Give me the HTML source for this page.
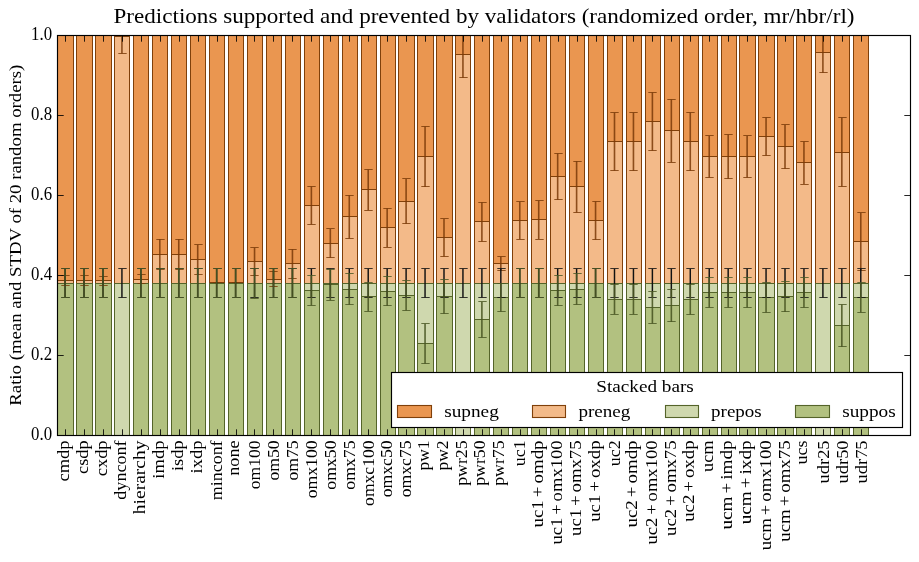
<!DOCTYPE html>
<html><head><meta charset="utf-8"><title>Predictions supported and prevented by validators</title>
<style>
html,body{margin:0;padding:0;background:#fff;}
body{width:919px;height:562px;overflow:hidden;}
svg{display:block;will-change:transform;}
text{font-family:"Liberation Serif",serif;fill:#000;}
</style></head><body>
<svg width="919" height="562" viewBox="0 0 919 562">
<rect width="919" height="562" fill="#fff"/>
<clipPath id="ax"><rect x="57.97" y="35.30" width="852.52" height="400.00"/></clipPath>
<g clip-path="url(#ax)" stroke-width="1" fill="none">
<rect x="57.5" y="35.5" width="16.0" height="400.0" fill="#EA9650" stroke="#80400A"/>
<rect x="57.5" y="280.5" width="16.0" height="155.0" fill="#F3BA89" stroke="#80400A"/>
<rect x="57.5" y="283.5" width="16.0" height="152.0" fill="#CFD8AE" stroke="#55642A"/>
<rect x="57.5" y="283.5" width="16.0" height="152.0" fill="#B2C180" stroke="#55642A"/>
<rect x="76.5" y="35.5" width="16.0" height="400.0" fill="#EA9650" stroke="#80400A"/>
<rect x="76.5" y="280.5" width="16.0" height="155.0" fill="#F3BA89" stroke="#80400A"/>
<rect x="76.5" y="283.5" width="16.0" height="152.0" fill="#CFD8AE" stroke="#55642A"/>
<rect x="76.5" y="283.5" width="16.0" height="152.0" fill="#B2C180" stroke="#55642A"/>
<rect x="95.5" y="35.5" width="16.0" height="400.0" fill="#EA9650" stroke="#80400A"/>
<rect x="95.5" y="280.5" width="16.0" height="155.0" fill="#F3BA89" stroke="#80400A"/>
<rect x="95.5" y="283.5" width="16.0" height="152.0" fill="#CFD8AE" stroke="#55642A"/>
<rect x="95.5" y="283.5" width="16.0" height="152.0" fill="#B2C180" stroke="#55642A"/>
<rect x="114.5" y="35.5" width="15.0" height="400.0" fill="#EA9650" stroke="#80400A"/>
<rect x="114.5" y="36.5" width="15.0" height="399.0" fill="#F3BA89" stroke="#80400A"/>
<rect x="114.5" y="283.5" width="15.0" height="152.0" fill="#CFD8AE" stroke="#55642A"/>
<rect x="133.5" y="35.5" width="15.0" height="400.0" fill="#EA9650" stroke="#80400A"/>
<rect x="133.5" y="279.5" width="15.0" height="156.0" fill="#F3BA89" stroke="#80400A"/>
<rect x="133.5" y="283.5" width="15.0" height="152.0" fill="#CFD8AE" stroke="#55642A"/>
<rect x="133.5" y="283.5" width="15.0" height="152.0" fill="#B2C180" stroke="#55642A"/>
<rect x="152.5" y="35.5" width="15.0" height="400.0" fill="#EA9650" stroke="#80400A"/>
<rect x="152.5" y="254.5" width="15.0" height="181.0" fill="#F3BA89" stroke="#80400A"/>
<rect x="152.5" y="283.5" width="15.0" height="152.0" fill="#CFD8AE" stroke="#55642A"/>
<rect x="152.5" y="283.5" width="15.0" height="152.0" fill="#B2C180" stroke="#55642A"/>
<rect x="171.5" y="35.5" width="15.0" height="400.0" fill="#EA9650" stroke="#80400A"/>
<rect x="171.5" y="254.5" width="15.0" height="181.0" fill="#F3BA89" stroke="#80400A"/>
<rect x="171.5" y="283.5" width="15.0" height="152.0" fill="#CFD8AE" stroke="#55642A"/>
<rect x="171.5" y="283.5" width="15.0" height="152.0" fill="#B2C180" stroke="#55642A"/>
<rect x="190.5" y="35.5" width="15.0" height="400.0" fill="#EA9650" stroke="#80400A"/>
<rect x="190.5" y="259.5" width="15.0" height="176.0" fill="#F3BA89" stroke="#80400A"/>
<rect x="190.5" y="283.5" width="15.0" height="152.0" fill="#CFD8AE" stroke="#55642A"/>
<rect x="190.5" y="283.5" width="15.0" height="152.0" fill="#B2C180" stroke="#55642A"/>
<rect x="209.5" y="35.5" width="15.0" height="400.0" fill="#EA9650" stroke="#80400A"/>
<rect x="209.5" y="282.5" width="15.0" height="153.0" fill="#F3BA89" stroke="#80400A"/>
<rect x="209.5" y="283.5" width="15.0" height="152.0" fill="#CFD8AE" stroke="#55642A"/>
<rect x="209.5" y="283.5" width="15.0" height="152.0" fill="#B2C180" stroke="#55642A"/>
<rect x="228.5" y="35.5" width="15.0" height="400.0" fill="#EA9650" stroke="#80400A"/>
<rect x="228.5" y="282.5" width="15.0" height="153.0" fill="#F3BA89" stroke="#80400A"/>
<rect x="228.5" y="283.5" width="15.0" height="152.0" fill="#CFD8AE" stroke="#55642A"/>
<rect x="228.5" y="283.5" width="15.0" height="152.0" fill="#B2C180" stroke="#55642A"/>
<rect x="247.5" y="35.5" width="15.0" height="400.0" fill="#EA9650" stroke="#80400A"/>
<rect x="247.5" y="261.5" width="15.0" height="174.0" fill="#F3BA89" stroke="#80400A"/>
<rect x="247.5" y="283.5" width="15.0" height="152.0" fill="#CFD8AE" stroke="#55642A"/>
<rect x="247.5" y="283.5" width="15.0" height="152.0" fill="#B2C180" stroke="#55642A"/>
<rect x="266.5" y="35.5" width="15.0" height="400.0" fill="#EA9650" stroke="#80400A"/>
<rect x="266.5" y="279.5" width="15.0" height="156.0" fill="#F3BA89" stroke="#80400A"/>
<rect x="266.5" y="283.5" width="15.0" height="152.0" fill="#CFD8AE" stroke="#55642A"/>
<rect x="266.5" y="283.5" width="15.0" height="152.0" fill="#B2C180" stroke="#55642A"/>
<rect x="285.5" y="35.5" width="15.0" height="400.0" fill="#EA9650" stroke="#80400A"/>
<rect x="285.5" y="263.5" width="15.0" height="172.0" fill="#F3BA89" stroke="#80400A"/>
<rect x="285.5" y="283.5" width="15.0" height="152.0" fill="#CFD8AE" stroke="#55642A"/>
<rect x="285.5" y="283.5" width="15.0" height="152.0" fill="#B2C180" stroke="#55642A"/>
<rect x="304.5" y="35.5" width="15.0" height="400.0" fill="#EA9650" stroke="#80400A"/>
<rect x="304.5" y="205.5" width="15.0" height="230.0" fill="#F3BA89" stroke="#80400A"/>
<rect x="304.5" y="283.5" width="15.0" height="152.0" fill="#CFD8AE" stroke="#55642A"/>
<rect x="304.5" y="290.5" width="15.0" height="145.0" fill="#B2C180" stroke="#55642A"/>
<rect x="323.5" y="35.5" width="15.0" height="400.0" fill="#EA9650" stroke="#80400A"/>
<rect x="323.5" y="243.5" width="15.0" height="192.0" fill="#F3BA89" stroke="#80400A"/>
<rect x="323.5" y="283.5" width="15.0" height="152.0" fill="#CFD8AE" stroke="#55642A"/>
<rect x="323.5" y="284.5" width="15.0" height="151.0" fill="#B2C180" stroke="#55642A"/>
<rect x="342.5" y="35.5" width="15.0" height="400.0" fill="#EA9650" stroke="#80400A"/>
<rect x="342.5" y="216.5" width="15.0" height="219.0" fill="#F3BA89" stroke="#80400A"/>
<rect x="342.5" y="283.5" width="15.0" height="152.0" fill="#CFD8AE" stroke="#55642A"/>
<rect x="342.5" y="289.5" width="15.0" height="146.0" fill="#B2C180" stroke="#55642A"/>
<rect x="361.5" y="35.5" width="15.0" height="400.0" fill="#EA9650" stroke="#80400A"/>
<rect x="361.5" y="189.5" width="15.0" height="246.0" fill="#F3BA89" stroke="#80400A"/>
<rect x="361.5" y="283.5" width="15.0" height="152.0" fill="#CFD8AE" stroke="#55642A"/>
<rect x="361.5" y="296.5" width="15.0" height="139.0" fill="#B2C180" stroke="#55642A"/>
<rect x="380.5" y="35.5" width="15.0" height="400.0" fill="#EA9650" stroke="#80400A"/>
<rect x="380.5" y="227.5" width="15.0" height="208.0" fill="#F3BA89" stroke="#80400A"/>
<rect x="380.5" y="283.5" width="15.0" height="152.0" fill="#CFD8AE" stroke="#55642A"/>
<rect x="380.5" y="291.5" width="15.0" height="144.0" fill="#B2C180" stroke="#55642A"/>
<rect x="398.5" y="35.5" width="16.0" height="400.0" fill="#EA9650" stroke="#80400A"/>
<rect x="398.5" y="201.5" width="16.0" height="234.0" fill="#F3BA89" stroke="#80400A"/>
<rect x="398.5" y="283.5" width="16.0" height="152.0" fill="#CFD8AE" stroke="#55642A"/>
<rect x="398.5" y="295.5" width="16.0" height="140.0" fill="#B2C180" stroke="#55642A"/>
<rect x="417.5" y="35.5" width="16.0" height="400.0" fill="#EA9650" stroke="#80400A"/>
<rect x="417.5" y="156.5" width="16.0" height="279.0" fill="#F3BA89" stroke="#80400A"/>
<rect x="417.5" y="283.5" width="16.0" height="152.0" fill="#CFD8AE" stroke="#55642A"/>
<rect x="417.5" y="343.5" width="16.0" height="92.0" fill="#B2C180" stroke="#55642A"/>
<rect x="436.5" y="35.5" width="16.0" height="400.0" fill="#EA9650" stroke="#80400A"/>
<rect x="436.5" y="237.5" width="16.0" height="198.0" fill="#F3BA89" stroke="#80400A"/>
<rect x="436.5" y="283.5" width="16.0" height="152.0" fill="#CFD8AE" stroke="#55642A"/>
<rect x="436.5" y="296.5" width="16.0" height="139.0" fill="#B2C180" stroke="#55642A"/>
<rect x="455.5" y="35.5" width="15.0" height="400.0" fill="#EA9650" stroke="#80400A"/>
<rect x="455.5" y="54.5" width="15.0" height="381.0" fill="#F3BA89" stroke="#80400A"/>
<rect x="455.5" y="283.5" width="15.0" height="152.0" fill="#CFD8AE" stroke="#55642A"/>
<rect x="474.5" y="35.5" width="15.0" height="400.0" fill="#EA9650" stroke="#80400A"/>
<rect x="474.5" y="221.5" width="15.0" height="214.0" fill="#F3BA89" stroke="#80400A"/>
<rect x="474.5" y="283.5" width="15.0" height="152.0" fill="#CFD8AE" stroke="#55642A"/>
<rect x="474.5" y="319.5" width="15.0" height="116.0" fill="#B2C180" stroke="#55642A"/>
<rect x="493.5" y="35.5" width="15.0" height="400.0" fill="#EA9650" stroke="#80400A"/>
<rect x="493.5" y="263.5" width="15.0" height="172.0" fill="#F3BA89" stroke="#80400A"/>
<rect x="493.5" y="283.5" width="15.0" height="152.0" fill="#CFD8AE" stroke="#55642A"/>
<rect x="493.5" y="297.5" width="15.0" height="138.0" fill="#B2C180" stroke="#55642A"/>
<rect x="512.5" y="35.5" width="15.0" height="400.0" fill="#EA9650" stroke="#80400A"/>
<rect x="512.5" y="220.5" width="15.0" height="215.0" fill="#F3BA89" stroke="#80400A"/>
<rect x="512.5" y="283.5" width="15.0" height="152.0" fill="#CFD8AE" stroke="#55642A"/>
<rect x="512.5" y="283.5" width="15.0" height="152.0" fill="#B2C180" stroke="#55642A"/>
<rect x="531.5" y="35.5" width="15.0" height="400.0" fill="#EA9650" stroke="#80400A"/>
<rect x="531.5" y="219.5" width="15.0" height="216.0" fill="#F3BA89" stroke="#80400A"/>
<rect x="531.5" y="283.5" width="15.0" height="152.0" fill="#CFD8AE" stroke="#55642A"/>
<rect x="531.5" y="283.5" width="15.0" height="152.0" fill="#B2C180" stroke="#55642A"/>
<rect x="550.5" y="35.5" width="15.0" height="400.0" fill="#EA9650" stroke="#80400A"/>
<rect x="550.5" y="176.5" width="15.0" height="259.0" fill="#F3BA89" stroke="#80400A"/>
<rect x="550.5" y="283.5" width="15.0" height="152.0" fill="#CFD8AE" stroke="#55642A"/>
<rect x="550.5" y="290.5" width="15.0" height="145.0" fill="#B2C180" stroke="#55642A"/>
<rect x="569.5" y="35.5" width="15.0" height="400.0" fill="#EA9650" stroke="#80400A"/>
<rect x="569.5" y="186.5" width="15.0" height="249.0" fill="#F3BA89" stroke="#80400A"/>
<rect x="569.5" y="283.5" width="15.0" height="152.0" fill="#CFD8AE" stroke="#55642A"/>
<rect x="569.5" y="289.5" width="15.0" height="146.0" fill="#B2C180" stroke="#55642A"/>
<rect x="588.5" y="35.5" width="15.0" height="400.0" fill="#EA9650" stroke="#80400A"/>
<rect x="588.5" y="220.5" width="15.0" height="215.0" fill="#F3BA89" stroke="#80400A"/>
<rect x="588.5" y="283.5" width="15.0" height="152.0" fill="#CFD8AE" stroke="#55642A"/>
<rect x="588.5" y="283.5" width="15.0" height="152.0" fill="#B2C180" stroke="#55642A"/>
<rect x="607.5" y="35.5" width="15.0" height="400.0" fill="#EA9650" stroke="#80400A"/>
<rect x="607.5" y="141.5" width="15.0" height="294.0" fill="#F3BA89" stroke="#80400A"/>
<rect x="607.5" y="283.5" width="15.0" height="152.0" fill="#CFD8AE" stroke="#55642A"/>
<rect x="607.5" y="299.5" width="15.0" height="136.0" fill="#B2C180" stroke="#55642A"/>
<rect x="626.5" y="35.5" width="15.0" height="400.0" fill="#EA9650" stroke="#80400A"/>
<rect x="626.5" y="141.5" width="15.0" height="294.0" fill="#F3BA89" stroke="#80400A"/>
<rect x="626.5" y="283.5" width="15.0" height="152.0" fill="#CFD8AE" stroke="#55642A"/>
<rect x="626.5" y="299.5" width="15.0" height="136.0" fill="#B2C180" stroke="#55642A"/>
<rect x="645.5" y="35.5" width="15.0" height="400.0" fill="#EA9650" stroke="#80400A"/>
<rect x="645.5" y="121.5" width="15.0" height="314.0" fill="#F3BA89" stroke="#80400A"/>
<rect x="645.5" y="283.5" width="15.0" height="152.0" fill="#CFD8AE" stroke="#55642A"/>
<rect x="645.5" y="307.5" width="15.0" height="128.0" fill="#B2C180" stroke="#55642A"/>
<rect x="664.5" y="35.5" width="15.0" height="400.0" fill="#EA9650" stroke="#80400A"/>
<rect x="664.5" y="130.5" width="15.0" height="305.0" fill="#F3BA89" stroke="#80400A"/>
<rect x="664.5" y="283.5" width="15.0" height="152.0" fill="#CFD8AE" stroke="#55642A"/>
<rect x="664.5" y="305.5" width="15.0" height="130.0" fill="#B2C180" stroke="#55642A"/>
<rect x="683.5" y="35.5" width="15.0" height="400.0" fill="#EA9650" stroke="#80400A"/>
<rect x="683.5" y="141.5" width="15.0" height="294.0" fill="#F3BA89" stroke="#80400A"/>
<rect x="683.5" y="283.5" width="15.0" height="152.0" fill="#CFD8AE" stroke="#55642A"/>
<rect x="683.5" y="299.5" width="15.0" height="136.0" fill="#B2C180" stroke="#55642A"/>
<rect x="702.5" y="35.5" width="15.0" height="400.0" fill="#EA9650" stroke="#80400A"/>
<rect x="702.5" y="156.5" width="15.0" height="279.0" fill="#F3BA89" stroke="#80400A"/>
<rect x="702.5" y="283.5" width="15.0" height="152.0" fill="#CFD8AE" stroke="#55642A"/>
<rect x="702.5" y="292.5" width="15.0" height="143.0" fill="#B2C180" stroke="#55642A"/>
<rect x="721.5" y="35.5" width="15.0" height="400.0" fill="#EA9650" stroke="#80400A"/>
<rect x="721.5" y="156.5" width="15.0" height="279.0" fill="#F3BA89" stroke="#80400A"/>
<rect x="721.5" y="283.5" width="15.0" height="152.0" fill="#CFD8AE" stroke="#55642A"/>
<rect x="721.5" y="292.5" width="15.0" height="143.0" fill="#B2C180" stroke="#55642A"/>
<rect x="739.5" y="35.5" width="16.0" height="400.0" fill="#EA9650" stroke="#80400A"/>
<rect x="739.5" y="156.5" width="16.0" height="279.0" fill="#F3BA89" stroke="#80400A"/>
<rect x="739.5" y="283.5" width="16.0" height="152.0" fill="#CFD8AE" stroke="#55642A"/>
<rect x="739.5" y="292.5" width="16.0" height="143.0" fill="#B2C180" stroke="#55642A"/>
<rect x="758.5" y="35.5" width="16.0" height="400.0" fill="#EA9650" stroke="#80400A"/>
<rect x="758.5" y="136.5" width="16.0" height="299.0" fill="#F3BA89" stroke="#80400A"/>
<rect x="758.5" y="283.5" width="16.0" height="152.0" fill="#CFD8AE" stroke="#55642A"/>
<rect x="758.5" y="297.5" width="16.0" height="138.0" fill="#B2C180" stroke="#55642A"/>
<rect x="777.5" y="35.5" width="16.0" height="400.0" fill="#EA9650" stroke="#80400A"/>
<rect x="777.5" y="146.5" width="16.0" height="289.0" fill="#F3BA89" stroke="#80400A"/>
<rect x="777.5" y="283.5" width="16.0" height="152.0" fill="#CFD8AE" stroke="#55642A"/>
<rect x="777.5" y="296.5" width="16.0" height="139.0" fill="#B2C180" stroke="#55642A"/>
<rect x="796.5" y="35.5" width="15.0" height="400.0" fill="#EA9650" stroke="#80400A"/>
<rect x="796.5" y="162.5" width="15.0" height="273.0" fill="#F3BA89" stroke="#80400A"/>
<rect x="796.5" y="283.5" width="15.0" height="152.0" fill="#CFD8AE" stroke="#55642A"/>
<rect x="796.5" y="292.5" width="15.0" height="143.0" fill="#B2C180" stroke="#55642A"/>
<rect x="815.5" y="35.5" width="15.0" height="400.0" fill="#EA9650" stroke="#80400A"/>
<rect x="815.5" y="52.5" width="15.0" height="383.0" fill="#F3BA89" stroke="#80400A"/>
<rect x="815.5" y="283.5" width="15.0" height="152.0" fill="#CFD8AE" stroke="#55642A"/>
<rect x="834.5" y="35.5" width="15.0" height="400.0" fill="#EA9650" stroke="#80400A"/>
<rect x="834.5" y="152.5" width="15.0" height="283.0" fill="#F3BA89" stroke="#80400A"/>
<rect x="834.5" y="283.5" width="15.0" height="152.0" fill="#CFD8AE" stroke="#55642A"/>
<rect x="834.5" y="325.5" width="15.0" height="110.0" fill="#B2C180" stroke="#55642A"/>
<rect x="853.5" y="35.5" width="15.0" height="400.0" fill="#EA9650" stroke="#80400A"/>
<rect x="853.5" y="241.5" width="15.0" height="194.0" fill="#F3BA89" stroke="#80400A"/>
<rect x="853.5" y="283.5" width="15.0" height="152.0" fill="#CFD8AE" stroke="#55642A"/>
<rect x="853.5" y="297.5" width="15.0" height="138.0" fill="#B2C180" stroke="#55642A"/>
<path d="M65.10 275.50V285.50" stroke="#7a3a08" stroke-width="1.60" stroke-opacity="0.85"/>
<path d="M61.30 275.5H69.70M61.30 285.5H69.70" stroke="#7a3a08" stroke-width="1" stroke-opacity="0.82"/>
<path d="M65.10 268.70V297.50" stroke="#111" stroke-width="1.45" stroke-opacity="1.00"/>
<path d="M61.30 268.5H69.70M61.30 297.5H69.70" stroke="#111" stroke-width="1" stroke-opacity="0.82"/>
<path d="M65.10 268.90V297.70" stroke="#4a5824" stroke-width="1.60" stroke-opacity="0.90"/>
<path d="M61.30 268.5H69.70M61.30 297.5H69.70" stroke="#4a5824" stroke-width="1" stroke-opacity="0.82"/>
<path d="M84.04 275.50V285.50" stroke="#7a3a08" stroke-width="1.60" stroke-opacity="0.85"/>
<path d="M80.30 275.5H88.70M80.30 285.5H88.70" stroke="#7a3a08" stroke-width="1" stroke-opacity="0.82"/>
<path d="M84.04 268.70V297.50" stroke="#111" stroke-width="1.45" stroke-opacity="1.00"/>
<path d="M80.30 268.5H88.70M80.30 297.5H88.70" stroke="#111" stroke-width="1" stroke-opacity="0.82"/>
<path d="M84.04 268.90V297.70" stroke="#4a5824" stroke-width="1.60" stroke-opacity="0.90"/>
<path d="M80.30 268.5H88.70M80.30 297.5H88.70" stroke="#4a5824" stroke-width="1" stroke-opacity="0.82"/>
<path d="M102.99 276.42V285.38" stroke="#7a3a08" stroke-width="1.60" stroke-opacity="0.85"/>
<path d="M99.30 276.5H107.70M99.30 285.5H107.70" stroke="#7a3a08" stroke-width="1" stroke-opacity="0.82"/>
<path d="M102.99 268.70V297.50" stroke="#111" stroke-width="1.45" stroke-opacity="1.00"/>
<path d="M99.30 268.5H107.70M99.30 297.5H107.70" stroke="#111" stroke-width="1" stroke-opacity="0.82"/>
<path d="M102.99 268.90V297.70" stroke="#4a5824" stroke-width="1.60" stroke-opacity="0.90"/>
<path d="M99.30 268.5H107.70M99.30 297.5H107.70" stroke="#4a5824" stroke-width="1" stroke-opacity="0.82"/>
<path d="M121.93 19.50V53.50" stroke="#7a3a08" stroke-width="1.60" stroke-opacity="0.85"/>
<path d="M118.30 19.5H126.70M118.30 53.5H126.70" stroke="#7a3a08" stroke-width="1" stroke-opacity="0.82"/>
<path d="M121.93 268.70V297.50" stroke="#111" stroke-width="1.45" stroke-opacity="1.00"/>
<path d="M118.30 268.5H126.70M118.30 297.5H126.70" stroke="#111" stroke-width="1" stroke-opacity="0.82"/>
<path d="M140.88 274.62V283.58" stroke="#7a3a08" stroke-width="1.60" stroke-opacity="0.85"/>
<path d="M137.30 274.5H145.70M137.30 283.5H145.70" stroke="#7a3a08" stroke-width="1" stroke-opacity="0.82"/>
<path d="M140.88 268.70V297.50" stroke="#111" stroke-width="1.45" stroke-opacity="1.00"/>
<path d="M137.30 268.5H145.70M137.30 297.5H145.70" stroke="#111" stroke-width="1" stroke-opacity="0.82"/>
<path d="M140.88 268.90V297.70" stroke="#4a5824" stroke-width="1.60" stroke-opacity="0.90"/>
<path d="M137.30 268.5H145.70M137.30 297.5H145.70" stroke="#4a5824" stroke-width="1" stroke-opacity="0.82"/>
<path d="M159.82 239.06V269.30" stroke="#7a3a08" stroke-width="1.60" stroke-opacity="0.85"/>
<path d="M156.30 239.5H164.70M156.30 269.5H164.70" stroke="#7a3a08" stroke-width="1" stroke-opacity="0.82"/>
<path d="M159.82 268.70V297.50" stroke="#111" stroke-width="1.45" stroke-opacity="1.00"/>
<path d="M156.30 268.5H164.70M156.30 297.5H164.70" stroke="#111" stroke-width="1" stroke-opacity="0.82"/>
<path d="M159.82 268.90V297.70" stroke="#4a5824" stroke-width="1.60" stroke-opacity="0.90"/>
<path d="M156.30 268.5H164.70M156.30 297.5H164.70" stroke="#4a5824" stroke-width="1" stroke-opacity="0.82"/>
<path d="M178.77 239.06V269.30" stroke="#7a3a08" stroke-width="1.60" stroke-opacity="0.85"/>
<path d="M175.30 239.5H183.70M175.30 269.5H183.70" stroke="#7a3a08" stroke-width="1" stroke-opacity="0.82"/>
<path d="M178.77 268.70V297.50" stroke="#111" stroke-width="1.45" stroke-opacity="1.00"/>
<path d="M175.30 268.5H183.70M175.30 297.5H183.70" stroke="#111" stroke-width="1" stroke-opacity="0.82"/>
<path d="M178.77 268.90V297.70" stroke="#4a5824" stroke-width="1.60" stroke-opacity="0.90"/>
<path d="M175.30 268.5H183.70M175.30 297.5H183.70" stroke="#4a5824" stroke-width="1" stroke-opacity="0.82"/>
<path d="M197.71 244.70V274.30" stroke="#7a3a08" stroke-width="1.60" stroke-opacity="0.85"/>
<path d="M194.30 244.5H202.70M194.30 274.5H202.70" stroke="#7a3a08" stroke-width="1" stroke-opacity="0.82"/>
<path d="M197.71 268.70V297.50" stroke="#111" stroke-width="1.45" stroke-opacity="1.00"/>
<path d="M194.30 268.5H202.70M194.30 297.5H202.70" stroke="#111" stroke-width="1" stroke-opacity="0.82"/>
<path d="M197.71 268.90V297.70" stroke="#4a5824" stroke-width="1.60" stroke-opacity="0.90"/>
<path d="M194.30 268.5H202.70M194.30 297.5H202.70" stroke="#4a5824" stroke-width="1" stroke-opacity="0.82"/>
<path d="M216.66 282.90V282.90" stroke="#7a3a08" stroke-width="1.60" stroke-opacity="0.85"/>
<path d="M213.30 282.5H221.70M213.30 282.5H221.70" stroke="#7a3a08" stroke-width="1" stroke-opacity="0.82"/>
<path d="M216.66 268.70V297.50" stroke="#111" stroke-width="1.45" stroke-opacity="1.00"/>
<path d="M213.30 268.5H221.70M213.30 297.5H221.70" stroke="#111" stroke-width="1" stroke-opacity="0.82"/>
<path d="M216.66 268.90V297.70" stroke="#4a5824" stroke-width="1.60" stroke-opacity="0.90"/>
<path d="M213.30 268.5H221.70M213.30 297.5H221.70" stroke="#4a5824" stroke-width="1" stroke-opacity="0.82"/>
<path d="M235.60 282.90V282.90" stroke="#7a3a08" stroke-width="1.60" stroke-opacity="0.85"/>
<path d="M232.30 282.5H240.70M232.30 282.5H240.70" stroke="#7a3a08" stroke-width="1" stroke-opacity="0.82"/>
<path d="M235.60 268.70V297.50" stroke="#111" stroke-width="1.45" stroke-opacity="1.00"/>
<path d="M232.30 268.5H240.70M232.30 297.5H240.70" stroke="#111" stroke-width="1" stroke-opacity="0.82"/>
<path d="M235.60 268.90V297.70" stroke="#4a5824" stroke-width="1.60" stroke-opacity="0.90"/>
<path d="M232.30 268.5H240.70M232.30 297.5H240.70" stroke="#4a5824" stroke-width="1" stroke-opacity="0.82"/>
<path d="M254.55 247.70V275.70" stroke="#7a3a08" stroke-width="1.60" stroke-opacity="0.85"/>
<path d="M250.30 247.5H258.70M250.30 275.5H258.70" stroke="#7a3a08" stroke-width="1" stroke-opacity="0.82"/>
<path d="M254.55 268.70V297.50" stroke="#111" stroke-width="1.45" stroke-opacity="1.00"/>
<path d="M250.30 268.5H258.70M250.30 297.5H258.70" stroke="#111" stroke-width="1" stroke-opacity="0.82"/>
<path d="M254.55 268.90V298.50" stroke="#4a5824" stroke-width="1.60" stroke-opacity="0.90"/>
<path d="M250.30 268.5H258.70M250.30 298.5H258.70" stroke="#4a5824" stroke-width="1" stroke-opacity="0.82"/>
<path d="M273.49 271.70V286.90" stroke="#7a3a08" stroke-width="1.60" stroke-opacity="0.85"/>
<path d="M269.30 271.5H277.70M269.30 286.5H277.70" stroke="#7a3a08" stroke-width="1" stroke-opacity="0.82"/>
<path d="M273.49 268.70V297.50" stroke="#111" stroke-width="1.45" stroke-opacity="1.00"/>
<path d="M269.30 268.5H277.70M269.30 297.5H277.70" stroke="#111" stroke-width="1" stroke-opacity="0.82"/>
<path d="M273.49 268.90V297.70" stroke="#4a5824" stroke-width="1.60" stroke-opacity="0.90"/>
<path d="M269.30 268.5H277.70M269.30 297.5H277.70" stroke="#4a5824" stroke-width="1" stroke-opacity="0.82"/>
<path d="M292.44 249.30V278.10" stroke="#7a3a08" stroke-width="1.60" stroke-opacity="0.85"/>
<path d="M288.30 249.5H296.70M288.30 278.5H296.70" stroke="#7a3a08" stroke-width="1" stroke-opacity="0.82"/>
<path d="M292.44 268.70V297.50" stroke="#111" stroke-width="1.45" stroke-opacity="1.00"/>
<path d="M288.30 268.5H296.70M288.30 297.5H296.70" stroke="#111" stroke-width="1" stroke-opacity="0.82"/>
<path d="M292.44 268.90V297.70" stroke="#4a5824" stroke-width="1.60" stroke-opacity="0.90"/>
<path d="M288.30 268.5H296.70M288.30 297.5H296.70" stroke="#4a5824" stroke-width="1" stroke-opacity="0.82"/>
<path d="M311.38 186.50V224.50" stroke="#7a3a08" stroke-width="1.60" stroke-opacity="0.85"/>
<path d="M307.30 186.5H315.70M307.30 224.5H315.70" stroke="#7a3a08" stroke-width="1" stroke-opacity="0.82"/>
<path d="M311.38 268.70V297.50" stroke="#111" stroke-width="1.45" stroke-opacity="1.00"/>
<path d="M307.30 268.5H315.70M307.30 297.5H315.70" stroke="#111" stroke-width="1" stroke-opacity="0.82"/>
<path d="M311.38 275.50V305.50" stroke="#4a5824" stroke-width="1.60" stroke-opacity="0.90"/>
<path d="M307.30 275.5H315.70M307.30 305.5H315.70" stroke="#4a5824" stroke-width="1" stroke-opacity="0.82"/>
<path d="M330.33 228.90V257.70" stroke="#7a3a08" stroke-width="1.60" stroke-opacity="0.85"/>
<path d="M326.30 228.5H334.70M326.30 257.5H334.70" stroke="#7a3a08" stroke-width="1" stroke-opacity="0.82"/>
<path d="M330.33 268.70V297.50" stroke="#111" stroke-width="1.45" stroke-opacity="1.00"/>
<path d="M326.30 268.5H334.70M326.30 297.5H334.70" stroke="#111" stroke-width="1" stroke-opacity="0.82"/>
<path d="M330.33 269.10V300.30" stroke="#4a5824" stroke-width="1.60" stroke-opacity="0.90"/>
<path d="M326.30 269.5H334.70M326.30 300.5H334.70" stroke="#4a5824" stroke-width="1" stroke-opacity="0.82"/>
<path d="M349.27 195.30V238.50" stroke="#7a3a08" stroke-width="1.60" stroke-opacity="0.85"/>
<path d="M345.30 195.5H353.70M345.30 238.5H353.70" stroke="#7a3a08" stroke-width="1" stroke-opacity="0.82"/>
<path d="M349.27 268.70V297.50" stroke="#111" stroke-width="1.45" stroke-opacity="1.00"/>
<path d="M345.30 268.5H353.70M345.30 297.5H353.70" stroke="#111" stroke-width="1" stroke-opacity="0.82"/>
<path d="M349.27 273.50V304.70" stroke="#4a5824" stroke-width="1.60" stroke-opacity="0.90"/>
<path d="M345.30 273.5H353.70M345.30 304.5H353.70" stroke="#4a5824" stroke-width="1" stroke-opacity="0.82"/>
<path d="M368.22 169.50V210.30" stroke="#7a3a08" stroke-width="1.60" stroke-opacity="0.85"/>
<path d="M364.30 169.5H372.70M364.30 210.5H372.70" stroke="#7a3a08" stroke-width="1" stroke-opacity="0.82"/>
<path d="M368.22 268.70V297.50" stroke="#111" stroke-width="1.45" stroke-opacity="1.00"/>
<path d="M364.30 268.5H372.70M364.30 297.5H372.70" stroke="#111" stroke-width="1" stroke-opacity="0.82"/>
<path d="M368.22 282.50V311.30" stroke="#4a5824" stroke-width="1.60" stroke-opacity="0.90"/>
<path d="M364.30 282.5H372.70M364.30 311.5H372.70" stroke="#4a5824" stroke-width="1" stroke-opacity="0.82"/>
<path d="M387.16 208.30V247.10" stroke="#7a3a08" stroke-width="1.60" stroke-opacity="0.85"/>
<path d="M383.30 208.5H391.70M383.30 247.5H391.70" stroke="#7a3a08" stroke-width="1" stroke-opacity="0.82"/>
<path d="M387.16 268.70V297.50" stroke="#111" stroke-width="1.45" stroke-opacity="1.00"/>
<path d="M383.30 268.5H391.70M383.30 297.5H391.70" stroke="#111" stroke-width="1" stroke-opacity="0.82"/>
<path d="M387.16 276.70V305.90" stroke="#4a5824" stroke-width="1.60" stroke-opacity="0.90"/>
<path d="M383.30 276.5H391.70M383.30 305.5H391.70" stroke="#4a5824" stroke-width="1" stroke-opacity="0.82"/>
<path d="M406.11 178.90V223.70" stroke="#7a3a08" stroke-width="1.60" stroke-opacity="0.85"/>
<path d="M402.30 178.5H410.70M402.30 223.5H410.70" stroke="#7a3a08" stroke-width="1" stroke-opacity="0.82"/>
<path d="M406.11 268.70V297.50" stroke="#111" stroke-width="1.45" stroke-opacity="1.00"/>
<path d="M402.30 268.5H410.70M402.30 297.5H410.70" stroke="#111" stroke-width="1" stroke-opacity="0.82"/>
<path d="M406.11 280.50V310.50" stroke="#4a5824" stroke-width="1.60" stroke-opacity="0.90"/>
<path d="M402.30 280.5H410.70M402.30 310.5H410.70" stroke="#4a5824" stroke-width="1" stroke-opacity="0.82"/>
<path d="M425.05 126.50V186.90" stroke="#7a3a08" stroke-width="1.60" stroke-opacity="0.85"/>
<path d="M421.30 126.5H429.70M421.30 186.5H429.70" stroke="#7a3a08" stroke-width="1" stroke-opacity="0.82"/>
<path d="M425.05 268.70V297.50" stroke="#111" stroke-width="1.45" stroke-opacity="1.00"/>
<path d="M421.30 268.5H429.70M421.30 297.5H429.70" stroke="#111" stroke-width="1" stroke-opacity="0.82"/>
<path d="M425.05 323.86V363.86" stroke="#4a5824" stroke-width="1.60" stroke-opacity="0.90"/>
<path d="M421.30 323.5H429.70M421.30 363.5H429.70" stroke="#4a5824" stroke-width="1" stroke-opacity="0.82"/>
<path d="M444.00 218.90V256.50" stroke="#7a3a08" stroke-width="1.60" stroke-opacity="0.85"/>
<path d="M440.30 218.5H448.70M440.30 256.5H448.70" stroke="#7a3a08" stroke-width="1" stroke-opacity="0.82"/>
<path d="M444.00 268.70V297.50" stroke="#111" stroke-width="1.45" stroke-opacity="1.00"/>
<path d="M440.30 268.5H448.70M440.30 297.5H448.70" stroke="#111" stroke-width="1" stroke-opacity="0.82"/>
<path d="M444.00 279.70V313.70" stroke="#4a5824" stroke-width="1.60" stroke-opacity="0.90"/>
<path d="M440.30 279.5H448.70M440.30 313.5H448.70" stroke="#4a5824" stroke-width="1" stroke-opacity="0.82"/>
<path d="M462.94 32.10V77.70" stroke="#7a3a08" stroke-width="1.60" stroke-opacity="0.85"/>
<path d="M459.30 32.5H467.70M459.30 77.5H467.70" stroke="#7a3a08" stroke-width="1" stroke-opacity="0.82"/>
<path d="M462.94 268.70V297.50" stroke="#111" stroke-width="1.45" stroke-opacity="1.00"/>
<path d="M459.30 268.5H467.70M459.30 297.5H467.70" stroke="#111" stroke-width="1" stroke-opacity="0.82"/>
<path d="M481.89 202.30V241.50" stroke="#7a3a08" stroke-width="1.60" stroke-opacity="0.85"/>
<path d="M478.30 202.5H486.70M478.30 241.5H486.70" stroke="#7a3a08" stroke-width="1" stroke-opacity="0.82"/>
<path d="M481.89 268.70V297.50" stroke="#111" stroke-width="1.45" stroke-opacity="1.00"/>
<path d="M478.30 268.5H486.70M478.30 297.5H486.70" stroke="#111" stroke-width="1" stroke-opacity="0.82"/>
<path d="M481.89 301.90V337.50" stroke="#4a5824" stroke-width="1.60" stroke-opacity="0.90"/>
<path d="M478.30 301.5H486.70M478.30 337.5H486.70" stroke="#4a5824" stroke-width="1" stroke-opacity="0.82"/>
<path d="M500.83 256.70V270.70" stroke="#7a3a08" stroke-width="1.60" stroke-opacity="0.85"/>
<path d="M497.30 256.5H505.70M497.30 270.5H505.70" stroke="#7a3a08" stroke-width="1" stroke-opacity="0.82"/>
<path d="M500.83 268.70V297.50" stroke="#111" stroke-width="1.45" stroke-opacity="1.00"/>
<path d="M497.30 268.5H505.70M497.30 297.5H505.70" stroke="#111" stroke-width="1" stroke-opacity="0.82"/>
<path d="M500.83 283.70V311.70" stroke="#4a5824" stroke-width="1.60" stroke-opacity="0.90"/>
<path d="M497.30 283.5H505.70M497.30 311.5H505.70" stroke="#4a5824" stroke-width="1" stroke-opacity="0.82"/>
<path d="M519.78 201.70V239.30" stroke="#7a3a08" stroke-width="1.60" stroke-opacity="0.85"/>
<path d="M516.30 201.5H524.70M516.30 239.5H524.70" stroke="#7a3a08" stroke-width="1" stroke-opacity="0.82"/>
<path d="M519.78 268.70V297.50" stroke="#111" stroke-width="1.45" stroke-opacity="1.00"/>
<path d="M516.30 268.5H524.70M516.30 297.5H524.70" stroke="#111" stroke-width="1" stroke-opacity="0.82"/>
<path d="M519.78 268.90V297.70" stroke="#4a5824" stroke-width="1.60" stroke-opacity="0.90"/>
<path d="M516.30 268.5H524.70M516.30 297.5H524.70" stroke="#4a5824" stroke-width="1" stroke-opacity="0.82"/>
<path d="M538.72 200.70V239.10" stroke="#7a3a08" stroke-width="1.60" stroke-opacity="0.85"/>
<path d="M535.30 200.5H543.70M535.30 239.5H543.70" stroke="#7a3a08" stroke-width="1" stroke-opacity="0.82"/>
<path d="M538.72 268.70V297.50" stroke="#111" stroke-width="1.45" stroke-opacity="1.00"/>
<path d="M535.30 268.5H543.70M535.30 297.5H543.70" stroke="#111" stroke-width="1" stroke-opacity="0.82"/>
<path d="M538.72 268.90V297.70" stroke="#4a5824" stroke-width="1.60" stroke-opacity="0.90"/>
<path d="M535.30 268.5H543.70M535.30 297.5H543.70" stroke="#4a5824" stroke-width="1" stroke-opacity="0.82"/>
<path d="M557.67 153.54V199.70" stroke="#7a3a08" stroke-width="1.60" stroke-opacity="0.85"/>
<path d="M554.30 153.5H562.70M554.30 199.5H562.70" stroke="#7a3a08" stroke-width="1" stroke-opacity="0.82"/>
<path d="M557.67 268.70V297.50" stroke="#111" stroke-width="1.45" stroke-opacity="1.00"/>
<path d="M554.30 268.5H562.70M554.30 297.5H562.70" stroke="#111" stroke-width="1" stroke-opacity="0.82"/>
<path d="M557.67 275.54V305.70" stroke="#4a5824" stroke-width="1.60" stroke-opacity="0.90"/>
<path d="M554.30 275.5H562.70M554.30 305.5H562.70" stroke="#4a5824" stroke-width="1" stroke-opacity="0.82"/>
<path d="M576.61 161.30V212.50" stroke="#7a3a08" stroke-width="1.60" stroke-opacity="0.85"/>
<path d="M573.30 161.5H581.70M573.30 212.5H581.70" stroke="#7a3a08" stroke-width="1" stroke-opacity="0.82"/>
<path d="M576.61 268.70V297.50" stroke="#111" stroke-width="1.45" stroke-opacity="1.00"/>
<path d="M573.30 268.5H581.70M573.30 297.5H581.70" stroke="#111" stroke-width="1" stroke-opacity="0.82"/>
<path d="M576.61 273.86V304.74" stroke="#4a5824" stroke-width="1.60" stroke-opacity="0.90"/>
<path d="M573.30 273.5H581.70M573.30 304.5H581.70" stroke="#4a5824" stroke-width="1" stroke-opacity="0.82"/>
<path d="M595.56 201.62V239.78" stroke="#7a3a08" stroke-width="1.60" stroke-opacity="0.85"/>
<path d="M592.30 201.5H600.70M592.30 239.5H600.70" stroke="#7a3a08" stroke-width="1" stroke-opacity="0.82"/>
<path d="M595.56 268.70V297.50" stroke="#111" stroke-width="1.45" stroke-opacity="1.00"/>
<path d="M592.30 268.5H600.70M592.30 297.5H600.70" stroke="#111" stroke-width="1" stroke-opacity="0.82"/>
<path d="M595.56 268.90V297.70" stroke="#4a5824" stroke-width="1.60" stroke-opacity="0.90"/>
<path d="M592.30 268.5H600.70M592.30 297.5H600.70" stroke="#4a5824" stroke-width="1" stroke-opacity="0.82"/>
<path d="M614.50 112.70V170.70" stroke="#7a3a08" stroke-width="1.60" stroke-opacity="0.85"/>
<path d="M610.30 112.5H618.70M610.30 170.5H618.70" stroke="#7a3a08" stroke-width="1" stroke-opacity="0.82"/>
<path d="M614.50 268.70V297.50" stroke="#111" stroke-width="1.45" stroke-opacity="1.00"/>
<path d="M610.30 268.5H618.70M610.30 297.5H618.70" stroke="#111" stroke-width="1" stroke-opacity="0.82"/>
<path d="M614.50 284.82V314.18" stroke="#4a5824" stroke-width="1.60" stroke-opacity="0.90"/>
<path d="M610.30 284.5H618.70M610.30 314.5H618.70" stroke="#4a5824" stroke-width="1" stroke-opacity="0.82"/>
<path d="M633.45 112.70V170.70" stroke="#7a3a08" stroke-width="1.60" stroke-opacity="0.85"/>
<path d="M629.30 112.5H637.70M629.30 170.5H637.70" stroke="#7a3a08" stroke-width="1" stroke-opacity="0.82"/>
<path d="M633.45 268.70V297.50" stroke="#111" stroke-width="1.45" stroke-opacity="1.00"/>
<path d="M629.30 268.5H637.70M629.30 297.5H637.70" stroke="#111" stroke-width="1" stroke-opacity="0.82"/>
<path d="M633.45 284.82V314.18" stroke="#4a5824" stroke-width="1.60" stroke-opacity="0.90"/>
<path d="M629.30 284.5H637.70M629.30 314.5H637.70" stroke="#4a5824" stroke-width="1" stroke-opacity="0.82"/>
<path d="M652.39 92.62V150.78" stroke="#7a3a08" stroke-width="1.60" stroke-opacity="0.85"/>
<path d="M648.30 92.5H656.70M648.30 150.5H656.70" stroke="#7a3a08" stroke-width="1" stroke-opacity="0.82"/>
<path d="M652.39 268.70V297.50" stroke="#111" stroke-width="1.45" stroke-opacity="1.00"/>
<path d="M648.30 268.5H656.70M648.30 297.5H656.70" stroke="#111" stroke-width="1" stroke-opacity="0.82"/>
<path d="M652.39 291.50V323.50" stroke="#4a5824" stroke-width="1.60" stroke-opacity="0.90"/>
<path d="M648.30 291.5H656.70M648.30 323.5H656.70" stroke="#4a5824" stroke-width="1" stroke-opacity="0.82"/>
<path d="M671.34 99.50V162.30" stroke="#7a3a08" stroke-width="1.60" stroke-opacity="0.85"/>
<path d="M667.30 99.5H675.70M667.30 162.5H675.70" stroke="#7a3a08" stroke-width="1" stroke-opacity="0.82"/>
<path d="M671.34 268.70V297.50" stroke="#111" stroke-width="1.45" stroke-opacity="1.00"/>
<path d="M667.30 268.5H675.70M667.30 297.5H675.70" stroke="#111" stroke-width="1" stroke-opacity="0.82"/>
<path d="M671.34 289.46V321.94" stroke="#4a5824" stroke-width="1.60" stroke-opacity="0.90"/>
<path d="M667.30 289.5H675.70M667.30 321.5H675.70" stroke="#4a5824" stroke-width="1" stroke-opacity="0.82"/>
<path d="M690.28 112.62V170.78" stroke="#7a3a08" stroke-width="1.60" stroke-opacity="0.85"/>
<path d="M686.30 112.5H694.70M686.30 170.5H694.70" stroke="#7a3a08" stroke-width="1" stroke-opacity="0.82"/>
<path d="M690.28 268.70V297.50" stroke="#111" stroke-width="1.45" stroke-opacity="1.00"/>
<path d="M686.30 268.5H694.70M686.30 297.5H694.70" stroke="#111" stroke-width="1" stroke-opacity="0.82"/>
<path d="M690.28 284.90V314.50" stroke="#4a5824" stroke-width="1.60" stroke-opacity="0.90"/>
<path d="M686.30 284.5H694.70M686.30 314.5H694.70" stroke="#4a5824" stroke-width="1" stroke-opacity="0.82"/>
<path d="M709.23 135.90V177.50" stroke="#7a3a08" stroke-width="1.60" stroke-opacity="0.85"/>
<path d="M705.30 135.5H713.70M705.30 177.5H713.70" stroke="#7a3a08" stroke-width="1" stroke-opacity="0.82"/>
<path d="M709.23 268.70V297.50" stroke="#111" stroke-width="1.45" stroke-opacity="1.00"/>
<path d="M705.30 268.5H713.70M705.30 297.5H713.70" stroke="#111" stroke-width="1" stroke-opacity="0.82"/>
<path d="M709.23 277.70V307.54" stroke="#4a5824" stroke-width="1.60" stroke-opacity="0.90"/>
<path d="M705.30 277.5H713.70M705.30 307.5H713.70" stroke="#4a5824" stroke-width="1" stroke-opacity="0.82"/>
<path d="M728.17 134.70V178.70" stroke="#7a3a08" stroke-width="1.60" stroke-opacity="0.85"/>
<path d="M724.30 134.5H732.70M724.30 178.5H732.70" stroke="#7a3a08" stroke-width="1" stroke-opacity="0.82"/>
<path d="M728.17 268.70V297.50" stroke="#111" stroke-width="1.45" stroke-opacity="1.00"/>
<path d="M724.30 268.5H732.70M724.30 297.5H732.70" stroke="#111" stroke-width="1" stroke-opacity="0.82"/>
<path d="M728.17 277.70V307.54" stroke="#4a5824" stroke-width="1.60" stroke-opacity="0.90"/>
<path d="M724.30 277.5H732.70M724.30 307.5H732.70" stroke="#4a5824" stroke-width="1" stroke-opacity="0.82"/>
<path d="M747.12 135.90V177.50" stroke="#7a3a08" stroke-width="1.60" stroke-opacity="0.85"/>
<path d="M743.30 135.5H751.70M743.30 177.5H751.70" stroke="#7a3a08" stroke-width="1" stroke-opacity="0.82"/>
<path d="M747.12 268.70V297.50" stroke="#111" stroke-width="1.45" stroke-opacity="1.00"/>
<path d="M743.30 268.5H751.70M743.30 297.5H751.70" stroke="#111" stroke-width="1" stroke-opacity="0.82"/>
<path d="M747.12 277.70V307.54" stroke="#4a5824" stroke-width="1.60" stroke-opacity="0.90"/>
<path d="M743.30 277.5H751.70M743.30 307.5H751.70" stroke="#4a5824" stroke-width="1" stroke-opacity="0.82"/>
<path d="M766.06 117.42V155.58" stroke="#7a3a08" stroke-width="1.60" stroke-opacity="0.85"/>
<path d="M762.30 117.5H770.70M762.30 155.5H770.70" stroke="#7a3a08" stroke-width="1" stroke-opacity="0.82"/>
<path d="M766.06 268.70V297.50" stroke="#111" stroke-width="1.45" stroke-opacity="1.00"/>
<path d="M762.30 268.5H770.70M762.30 297.5H770.70" stroke="#111" stroke-width="1" stroke-opacity="0.82"/>
<path d="M766.06 282.90V312.50" stroke="#4a5824" stroke-width="1.60" stroke-opacity="0.90"/>
<path d="M762.30 282.5H770.70M762.30 312.5H770.70" stroke="#4a5824" stroke-width="1" stroke-opacity="0.82"/>
<path d="M785.01 124.90V168.66" stroke="#7a3a08" stroke-width="1.60" stroke-opacity="0.85"/>
<path d="M781.30 124.5H789.70M781.30 168.5H789.70" stroke="#7a3a08" stroke-width="1" stroke-opacity="0.82"/>
<path d="M785.01 268.70V297.50" stroke="#111" stroke-width="1.45" stroke-opacity="1.00"/>
<path d="M781.30 268.5H789.70M781.30 297.5H789.70" stroke="#111" stroke-width="1" stroke-opacity="0.82"/>
<path d="M785.01 281.10V311.90" stroke="#4a5824" stroke-width="1.60" stroke-opacity="0.90"/>
<path d="M781.30 281.5H789.70M781.30 311.5H789.70" stroke="#4a5824" stroke-width="1" stroke-opacity="0.82"/>
<path d="M803.95 141.70V184.10" stroke="#7a3a08" stroke-width="1.60" stroke-opacity="0.85"/>
<path d="M800.30 141.5H808.70M800.30 184.5H808.70" stroke="#7a3a08" stroke-width="1" stroke-opacity="0.82"/>
<path d="M803.95 268.70V297.50" stroke="#111" stroke-width="1.45" stroke-opacity="1.00"/>
<path d="M800.30 268.5H808.70M800.30 297.5H808.70" stroke="#111" stroke-width="1" stroke-opacity="0.82"/>
<path d="M803.95 277.70V307.54" stroke="#4a5824" stroke-width="1.60" stroke-opacity="0.90"/>
<path d="M800.30 277.5H808.70M800.30 307.5H808.70" stroke="#4a5824" stroke-width="1" stroke-opacity="0.82"/>
<path d="M822.90 32.70V72.70" stroke="#7a3a08" stroke-width="1.60" stroke-opacity="0.85"/>
<path d="M819.30 32.5H827.70M819.30 72.5H827.70" stroke="#7a3a08" stroke-width="1" stroke-opacity="0.82"/>
<path d="M822.90 268.70V297.50" stroke="#111" stroke-width="1.45" stroke-opacity="1.00"/>
<path d="M819.30 268.5H827.70M819.30 297.5H827.70" stroke="#111" stroke-width="1" stroke-opacity="0.82"/>
<path d="M841.84 117.82V186.38" stroke="#7a3a08" stroke-width="1.60" stroke-opacity="0.85"/>
<path d="M838.30 117.5H846.70M838.30 186.5H846.70" stroke="#7a3a08" stroke-width="1" stroke-opacity="0.82"/>
<path d="M841.84 268.70V297.50" stroke="#111" stroke-width="1.45" stroke-opacity="1.00"/>
<path d="M838.30 268.5H846.70M838.30 297.5H846.70" stroke="#111" stroke-width="1" stroke-opacity="0.82"/>
<path d="M841.84 304.50V346.90" stroke="#4a5824" stroke-width="1.60" stroke-opacity="0.90"/>
<path d="M838.30 304.5H846.70M838.30 346.5H846.70" stroke="#4a5824" stroke-width="1" stroke-opacity="0.82"/>
<path d="M860.79 212.66V270.74" stroke="#7a3a08" stroke-width="1.60" stroke-opacity="0.85"/>
<path d="M857.30 212.5H865.70M857.30 270.5H865.70" stroke="#7a3a08" stroke-width="1" stroke-opacity="0.82"/>
<path d="M860.79 268.70V297.50" stroke="#111" stroke-width="1.45" stroke-opacity="1.00"/>
<path d="M857.30 268.5H865.70M857.30 297.5H865.70" stroke="#111" stroke-width="1" stroke-opacity="0.82"/>
<path d="M860.79 282.90V312.50" stroke="#4a5824" stroke-width="1.60" stroke-opacity="0.90"/>
<path d="M857.30 282.5H865.70M857.30 312.5H865.70" stroke="#4a5824" stroke-width="1" stroke-opacity="0.82"/>
</g>
<path d="M65.5 435.5v-6.2M65.5 35.5v6.2M84.5 435.5v-6.2M84.5 35.5v6.2M103.5 435.5v-6.2M103.5 35.5v6.2M122.5 435.5v-6.2M122.5 35.5v6.2M141.5 435.5v-6.2M141.5 35.5v6.2M160.5 435.5v-6.2M160.5 35.5v6.2M179.5 435.5v-6.2M179.5 35.5v6.2M198.5 435.5v-6.2M198.5 35.5v6.2M217.5 435.5v-6.2M217.5 35.5v6.2M236.5 435.5v-6.2M236.5 35.5v6.2M254.5 435.5v-6.2M254.5 35.5v6.2M273.5 435.5v-6.2M273.5 35.5v6.2M292.5 435.5v-6.2M292.5 35.5v6.2M311.5 435.5v-6.2M311.5 35.5v6.2M330.5 435.5v-6.2M330.5 35.5v6.2M349.5 435.5v-6.2M349.5 35.5v6.2M368.5 435.5v-6.2M368.5 35.5v6.2M387.5 435.5v-6.2M387.5 35.5v6.2M406.5 435.5v-6.2M406.5 35.5v6.2M425.5 435.5v-6.2M425.5 35.5v6.2M444.5 435.5v-6.2M444.5 35.5v6.2M463.5 435.5v-6.2M463.5 35.5v6.2M482.5 435.5v-6.2M482.5 35.5v6.2M501.5 435.5v-6.2M501.5 35.5v6.2M520.5 435.5v-6.2M520.5 35.5v6.2M539.5 435.5v-6.2M539.5 35.5v6.2M558.5 435.5v-6.2M558.5 35.5v6.2M577.5 435.5v-6.2M577.5 35.5v6.2M596.5 435.5v-6.2M596.5 35.5v6.2M614.5 435.5v-6.2M614.5 35.5v6.2M633.5 435.5v-6.2M633.5 35.5v6.2M652.5 435.5v-6.2M652.5 35.5v6.2M671.5 435.5v-6.2M671.5 35.5v6.2M690.5 435.5v-6.2M690.5 35.5v6.2M709.5 435.5v-6.2M709.5 35.5v6.2M728.5 435.5v-6.2M728.5 35.5v6.2M747.5 435.5v-6.2M747.5 35.5v6.2M766.5 435.5v-6.2M766.5 35.5v6.2M785.5 435.5v-6.2M785.5 35.5v6.2M804.5 435.5v-6.2M804.5 35.5v6.2M823.5 435.5v-6.2M823.5 35.5v6.2M842.5 435.5v-6.2M842.5 35.5v6.2M861.5 435.5v-6.2M861.5 35.5v6.2M57.5 435.5h6.2M910.5 435.5h-6.2M57.5 355.5h6.2M910.5 355.5h-6.2M57.5 275.5h6.2M910.5 275.5h-6.2M57.5 195.5h6.2M910.5 195.5h-6.2M57.5 115.5h6.2M910.5 115.5h-6.2M57.5 35.5h6.2M910.5 35.5h-6.2" stroke="#000" stroke-width="1" stroke-opacity="0.85" fill="none"/>
<rect x="57.5" y="35.5" width="853.0" height="400.0" fill="none" stroke="#000" stroke-width="1.15"/>
<text x="52.10" y="439.80" font-size="18.00" text-anchor="end" textLength="21.00" lengthAdjust="spacingAndGlyphs">0.0</text>
<text x="52.10" y="359.80" font-size="18.00" text-anchor="end" textLength="21.00" lengthAdjust="spacingAndGlyphs">0.2</text>
<text x="52.10" y="279.80" font-size="18.00" text-anchor="end" textLength="21.00" lengthAdjust="spacingAndGlyphs">0.4</text>
<text x="52.10" y="199.80" font-size="18.00" text-anchor="end" textLength="21.00" lengthAdjust="spacingAndGlyphs">0.6</text>
<text x="52.10" y="119.80" font-size="18.00" text-anchor="end" textLength="21.00" lengthAdjust="spacingAndGlyphs">0.8</text>
<text x="52.10" y="39.80" font-size="18.00" text-anchor="end" textLength="21.00" lengthAdjust="spacingAndGlyphs">1.0</text>
<text x="69.14" y="440.40" font-size="17.00" text-anchor="end" textLength="41.12" lengthAdjust="spacingAndGlyphs" transform="rotate(-90 69.14 440.40)">cmdp</text>
<text x="88.09" y="440.40" font-size="17.00" text-anchor="end" textLength="33.57" lengthAdjust="spacingAndGlyphs" transform="rotate(-90 88.09 440.40)">csdp</text>
<text x="107.03" y="440.40" font-size="17.00" text-anchor="end" textLength="35.86" lengthAdjust="spacingAndGlyphs" transform="rotate(-90 107.03 440.40)">cxdp</text>
<text x="125.98" y="440.40" font-size="17.00" text-anchor="end" textLength="59.29" lengthAdjust="spacingAndGlyphs" transform="rotate(-90 125.98 440.40)">dynconf</text>
<text x="144.92" y="440.40" font-size="17.00" text-anchor="end" textLength="73.80" lengthAdjust="spacingAndGlyphs" transform="rotate(-90 144.92 440.40)">hierarchy</text>
<text x="163.87" y="440.40" font-size="17.00" text-anchor="end" textLength="38.25" lengthAdjust="spacingAndGlyphs" transform="rotate(-90 163.87 440.40)">imdp</text>
<text x="182.81" y="440.40" font-size="17.00" text-anchor="end" textLength="30.70" lengthAdjust="spacingAndGlyphs" transform="rotate(-90 182.81 440.40)">isdp</text>
<text x="201.76" y="440.40" font-size="17.00" text-anchor="end" textLength="32.99" lengthAdjust="spacingAndGlyphs" transform="rotate(-90 201.76 440.40)">ixdp</text>
<text x="222.41" y="440.40" font-size="17.00" text-anchor="end" textLength="59.77" lengthAdjust="spacingAndGlyphs" transform="rotate(-90 222.41 440.40)">minconf</text>
<text x="239.04" y="440.40" font-size="17.00" text-anchor="end" textLength="35.38" lengthAdjust="spacingAndGlyphs" transform="rotate(-90 239.04 440.40)">none</text>
<text x="259.86" y="440.40" font-size="17.00" text-anchor="end" textLength="48.77" lengthAdjust="spacingAndGlyphs" transform="rotate(-90 259.86 440.40)">om100</text>
<text x="278.81" y="440.40" font-size="17.00" text-anchor="end" textLength="40.16" lengthAdjust="spacingAndGlyphs" transform="rotate(-90 278.81 440.40)">om50</text>
<text x="297.75" y="440.40" font-size="17.00" text-anchor="end" textLength="40.16" lengthAdjust="spacingAndGlyphs" transform="rotate(-90 297.75 440.40)">om75</text>
<text x="316.70" y="440.40" font-size="17.00" text-anchor="end" textLength="57.86" lengthAdjust="spacingAndGlyphs" transform="rotate(-90 316.70 440.40)">omx100</text>
<text x="335.64" y="440.40" font-size="17.00" text-anchor="end" textLength="49.25" lengthAdjust="spacingAndGlyphs" transform="rotate(-90 335.64 440.40)">omx50</text>
<text x="354.59" y="440.40" font-size="17.00" text-anchor="end" textLength="49.25" lengthAdjust="spacingAndGlyphs" transform="rotate(-90 354.59 440.40)">omx75</text>
<text x="373.53" y="440.40" font-size="17.00" text-anchor="end" textLength="65.51" lengthAdjust="spacingAndGlyphs" transform="rotate(-90 373.53 440.40)">omxc100</text>
<text x="392.48" y="440.40" font-size="17.00" text-anchor="end" textLength="56.90" lengthAdjust="spacingAndGlyphs" transform="rotate(-90 392.48 440.40)">omxc50</text>
<text x="411.42" y="440.40" font-size="17.00" text-anchor="end" textLength="56.90" lengthAdjust="spacingAndGlyphs" transform="rotate(-90 411.42 440.40)">omxc75</text>
<text x="428.66" y="440.40" font-size="17.00" text-anchor="end" textLength="30.12" lengthAdjust="spacingAndGlyphs" transform="rotate(-90 428.66 440.40)">pw1</text>
<text x="447.60" y="440.40" font-size="17.00" text-anchor="end" textLength="30.12" lengthAdjust="spacingAndGlyphs" transform="rotate(-90 447.60 440.40)">pw2</text>
<text x="466.55" y="440.40" font-size="17.00" text-anchor="end" textLength="45.42" lengthAdjust="spacingAndGlyphs" transform="rotate(-90 466.55 440.40)">pwr25</text>
<text x="485.49" y="440.40" font-size="17.00" text-anchor="end" textLength="45.42" lengthAdjust="spacingAndGlyphs" transform="rotate(-90 485.49 440.40)">pwr50</text>
<text x="504.44" y="440.40" font-size="17.00" text-anchor="end" textLength="45.42" lengthAdjust="spacingAndGlyphs" transform="rotate(-90 504.44 440.40)">pwr75</text>
<text x="525.09" y="440.40" font-size="17.00" text-anchor="end" textLength="25.82" lengthAdjust="spacingAndGlyphs" transform="rotate(-90 525.09 440.40)">uc1</text>
<text x="542.77" y="440.40" font-size="17.00" text-anchor="end" textLength="87.14" lengthAdjust="spacingAndGlyphs" transform="rotate(-90 542.77 440.40)" word-spacing="-1.6">uc1 + omdp</text>
<text x="562.31" y="440.40" font-size="17.00" text-anchor="end" textLength="104.15" lengthAdjust="spacingAndGlyphs" transform="rotate(-90 562.31 440.40)" word-spacing="-1.6">uc1 + omx100</text>
<text x="581.26" y="440.40" font-size="17.00" text-anchor="end" textLength="95.54" lengthAdjust="spacingAndGlyphs" transform="rotate(-90 581.26 440.40)" word-spacing="-1.6">uc1 + omx75</text>
<text x="599.60" y="440.40" font-size="17.00" text-anchor="end" textLength="81.40" lengthAdjust="spacingAndGlyphs" transform="rotate(-90 599.60 440.40)" word-spacing="-1.6">uc1 + oxdp</text>
<text x="619.82" y="440.40" font-size="17.00" text-anchor="end" textLength="25.82" lengthAdjust="spacingAndGlyphs" transform="rotate(-90 619.82 440.40)">uc2</text>
<text x="637.49" y="440.40" font-size="17.00" text-anchor="end" textLength="87.14" lengthAdjust="spacingAndGlyphs" transform="rotate(-90 637.49 440.40)" word-spacing="-1.6">uc2 + omdp</text>
<text x="657.04" y="440.40" font-size="17.00" text-anchor="end" textLength="104.15" lengthAdjust="spacingAndGlyphs" transform="rotate(-90 657.04 440.40)" word-spacing="-1.6">uc2 + omx100</text>
<text x="675.98" y="440.40" font-size="17.00" text-anchor="end" textLength="95.54" lengthAdjust="spacingAndGlyphs" transform="rotate(-90 675.98 440.40)" word-spacing="-1.6">uc2 + omx75</text>
<text x="694.33" y="440.40" font-size="17.00" text-anchor="end" textLength="81.40" lengthAdjust="spacingAndGlyphs" transform="rotate(-90 694.33 440.40)" word-spacing="-1.6">uc2 + oxdp</text>
<text x="712.66" y="440.40" font-size="17.00" text-anchor="end" textLength="31.56" lengthAdjust="spacingAndGlyphs" transform="rotate(-90 712.66 440.40)">ucm</text>
<text x="732.22" y="440.40" font-size="17.00" text-anchor="end" textLength="89.05" lengthAdjust="spacingAndGlyphs" transform="rotate(-90 732.22 440.40)" word-spacing="-1.6">ucm + imdp</text>
<text x="751.16" y="440.40" font-size="17.00" text-anchor="end" textLength="83.79" lengthAdjust="spacingAndGlyphs" transform="rotate(-90 751.16 440.40)" word-spacing="-1.6">ucm + ixdp</text>
<text x="770.71" y="440.40" font-size="17.00" text-anchor="end" textLength="109.88" lengthAdjust="spacingAndGlyphs" transform="rotate(-90 770.71 440.40)" word-spacing="-1.6">ucm + omx100</text>
<text x="789.65" y="440.40" font-size="17.00" text-anchor="end" textLength="101.28" lengthAdjust="spacingAndGlyphs" transform="rotate(-90 789.65 440.40)" word-spacing="-1.6">ucm + omx75</text>
<text x="807.39" y="440.40" font-size="17.00" text-anchor="end" textLength="24.00" lengthAdjust="spacingAndGlyphs" transform="rotate(-90 807.39 440.40)">ucs</text>
<text x="828.65" y="440.40" font-size="17.00" text-anchor="end" textLength="43.03" lengthAdjust="spacingAndGlyphs" transform="rotate(-90 828.65 440.40)">udr25</text>
<text x="847.60" y="440.40" font-size="17.00" text-anchor="end" textLength="43.03" lengthAdjust="spacingAndGlyphs" transform="rotate(-90 847.60 440.40)">udr50</text>
<text x="866.54" y="440.40" font-size="17.00" text-anchor="end" textLength="43.03" lengthAdjust="spacingAndGlyphs" transform="rotate(-90 866.54 440.40)">udr75</text>
<text x="484.00" y="23.30" font-size="20.60" text-anchor="middle" textLength="741.00" lengthAdjust="spacingAndGlyphs">Predictions supported and prevented by validators (randomized order, mr/hbr/rl)</text>
<text x="21.30" y="235.20" font-size="17.00" text-anchor="middle" textLength="341.00" lengthAdjust="spacingAndGlyphs" transform="rotate(-90 21.30 235.20)">Ratio (mean and STDV of 20 random orders)</text>
<rect x="391.5" y="372.5" width="511" height="55" fill="#fff" stroke="#000" stroke-width="1.15"/>
<text x="596.30" y="391.60" font-size="17.00" text-anchor="start" textLength="97.50" lengthAdjust="spacingAndGlyphs">Stacked bars</text>
<rect x="397.5" y="405.5" width="34" height="12" fill="#EA9650" stroke="#80400A" stroke-width="1.1"/>
<text x="444.20" y="417.00" font-size="17.00" text-anchor="start" textLength="54.60" lengthAdjust="spacingAndGlyphs">supneg</text>
<rect x="532.5" y="405.5" width="33" height="12" fill="#F3BA89" stroke="#80400A" stroke-width="1.1"/>
<text x="578.40" y="417.00" font-size="17.00" text-anchor="start" textLength="52.00" lengthAdjust="spacingAndGlyphs">preneg</text>
<rect x="665.5" y="405.5" width="33" height="12" fill="#CFD8AE" stroke="#55642A" stroke-width="1.1"/>
<text x="711.10" y="417.00" font-size="17.00" text-anchor="start" textLength="50.60" lengthAdjust="spacingAndGlyphs">prepos</text>
<rect x="795.5" y="405.5" width="34" height="12" fill="#B2C180" stroke="#55642A" stroke-width="1.1"/>
<text x="842.20" y="417.00" font-size="17.00" text-anchor="start" textLength="53.50" lengthAdjust="spacingAndGlyphs">suppos</text>
</svg>
</body></html>
